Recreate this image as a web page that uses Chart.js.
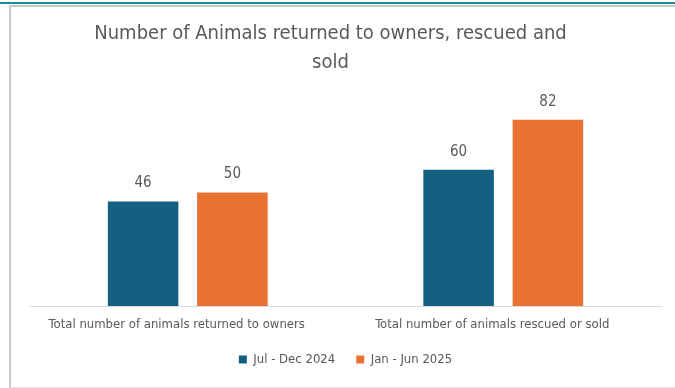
<!DOCTYPE html>
<html>
<head>
<meta charset="utf-8">
<script src="https://cdn.jsdelivr.net/npm/chart.js@4/dist/chart.umd.min.js"></script>
<style>
  html, body { margin: 0; padding: 0; background: #fff; }
  #wrap { position: relative; width: 675px; height: 388px; overflow: hidden; }
  #teal { position: absolute; left: 0; top: 2px; width: 675px; height: 2px; background: #17909c; }
  #frame {
    position: absolute; left: 9px; top: 5px; width: 700px; height: 380px;
    border-left: 2px solid #c9c9c9; border-top: 2px solid #c9c9c9; border-bottom: 1px solid #e2e2e2;
  }
  canvas { position: absolute; left: 0; top: 0; }
</style>
</head>
<body>
<div id="wrap">
  <div id="teal"></div>
  <div id="frame"></div>
  <canvas id="animalsChart" width="675" height="388"></canvas>
</div>
<script>
// ==========================================
// DATA
// ==========================================
const categories = [
    "Total number of animals returned to owners",
    "Total number of animals rescued or sold"
];
const seriesNames = ["Jul - Dec 2024", "Jan - Jun 2025"];
const julDec2024 = [46, 60];
const janJun2025 = [50, 82];
const seriesColors = ["#156082", "#E97132"];

// No narrow Arial here, so a condensed face at smaller sizes
const FONT = "'DejaVu Sans Condensed', 'Liberation Sans', sans-serif";
const TEXT_GRAY = "#595959";

// Value labels above each bar
const barValueLabels = {
    id: 'barValueLabels',
    afterDatasetsDraw(chart) {
        const ctx = chart.ctx;
        ctx.save();
        ctx.font = "15px " + FONT;
        ctx.fillStyle = TEXT_GRAY;
        ctx.textAlign = "center";
        ctx.textBaseline = "middle";
        chart.data.datasets.forEach((ds, i) => {
            chart.getDatasetMeta(i).data.forEach((bar, j) => {
                ctx.fillText(ds.data[j], bar.x, bar.y - 18);
            });
        });
        ctx.restore();
    }
};

const ctx = document.getElementById('animalsChart').getContext('2d');
new Chart(ctx, {
    type: 'bar',
    data: {
        labels: categories,
        datasets: [
            {
                label: seriesNames[0],
                data: julDec2024,
                backgroundColor: seriesColors[0],
                categoryPercentage: 0.566,
                barPercentage: 0.79
            },
            {
                label: seriesNames[1],
                data: janJun2025,
                backgroundColor: seriesColors[1],
                categoryPercentage: 0.566,
                barPercentage: 0.79
            }
        ]
    },
    options: {
        responsive: false,
        animation: false,
        layout: { padding: { top: 0, left: 0, right: 14, bottom: 12 } },
        plugins: {
            title: {
                display: true,
                text: ["Number of Animals returned to owners, rescued and", "sold"],
                color: TEXT_GRAY,
                font: { family: FONT, size: 20, weight: 'normal', lineHeight: 29 / 20 },
                padding: { top: 19, bottom: 2 }
            },
            legend: {
                position: 'bottom',
                fullSize: false,
                labels: {
                    color: TEXT_GRAY,
                    font: { family: FONT, size: 13 },
                    boxWidth: 8,
                    boxHeight: 8,
                    padding: 21
                }
            },
            tooltip: { enabled: false }
        },
        scales: {
            x: {
                grid: { display: false, drawTicks: false },
                border: { display: true, color: '#d9d9d9', width: 1 },
                ticks: {
                    color: TEXT_GRAY,
                    font: { family: FONT, size: 13, lineHeight: 1 },
                    padding: 12,
                    labelOffset: -11,
                    maxRotation: 0,
                    autoSkip: false
                },
                afterFit: function(scale) { scale.height = 26; }
            },
            y: {
                min: 0,
                max: 100,
                grid: { display: false, drawTicks: false },
                border: { display: false },
                ticks: { display: false },
                afterFit: function(scale) { scale.width = 30; }
            }
        }
    },
    plugins: [barValueLabels]
});
</script>
</body>
</html>
